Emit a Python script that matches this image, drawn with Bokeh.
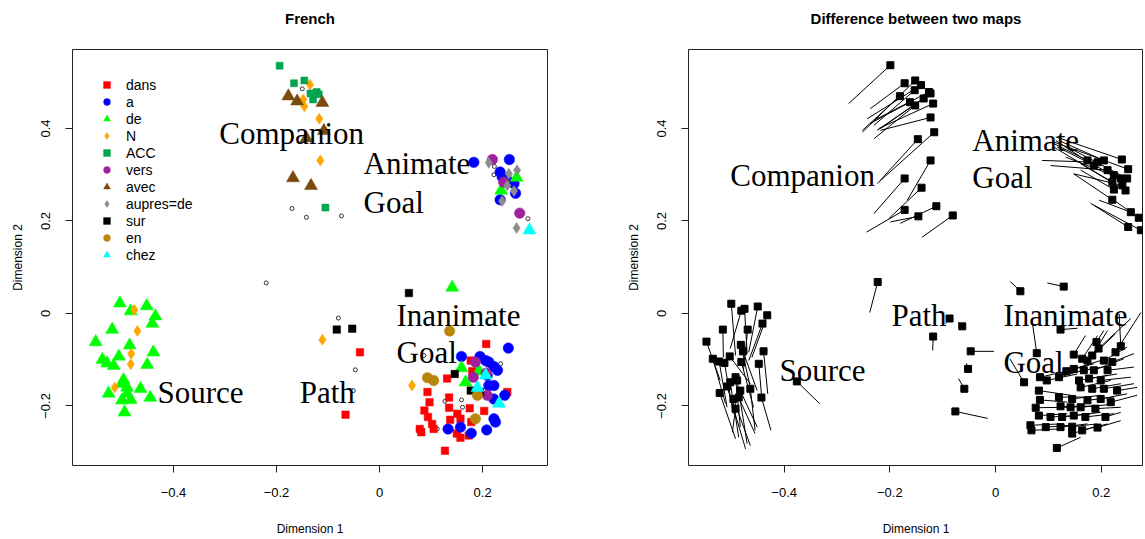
import numpy as np
from bokeh.plotting import figure
from bokeh.models import FixedTicker, Legend, LegendItem, Range1d
from bokeh.layouts import row
from bokeh.embed import file_html
from bokeh.resources import INLINE
from bokeh.core.properties import value

# ---------------- data: left panel "French" ----------------
dans_x = [-0.038, -0.066, 0.207, 0.177, 0.180, 0.131, 0.093, 0.097, 0.135, 0.087, 0.135, 0.175, 0.203, 0.094,
          0.151, 0.102, 0.137, 0.157, 0.178, 0.078, 0.081, 0.105, 0.150, 0.157, 0.173, 0.248, 0.127]
dans_y = [-0.084, -0.219, -0.066, -0.102, -0.125, -0.141, -0.170, -0.192, -0.182, -0.210, -0.204, -0.205, -0.211,
          -0.224, -0.217, -0.239, -0.230, -0.228, -0.235, -0.250, -0.257, -0.250, -0.260, -0.269, -0.264, -0.170, -0.297]

a_x = [0.183, 0.252, 0.234, 0.238, 0.248, 0.261, 0.264, 0.234,
       0.250, 0.159, 0.195, 0.206, 0.212, 0.222, 0.229, 0.209, 0.222, 0.212, 0.243, 0.222, 0.222, 0.225,
       0.133, 0.157, 0.178, 0.208]
a_y = [0.327, 0.333, 0.306, 0.295, 0.288, 0.281, 0.260, 0.246,
       -0.075, -0.093, -0.093, -0.102, -0.105, -0.115, -0.123, -0.134, -0.156, -0.156, -0.177, -0.185, -0.228, -0.235,
       -0.250, -0.246, -0.259, -0.252]

de_x = [0.266, 0.236, 0.141, 0.159, 0.193, 0.167,
        -0.504, -0.452, -0.483, -0.435, -0.441, -0.519, -0.551, -0.485, -0.439, -0.538, -0.529, -0.506,
        -0.516, -0.451, -0.497, -0.500, -0.490, -0.464, -0.526, -0.490, -0.500, -0.483, -0.445, -0.495]
de_y = [0.294, 0.266, 0.056, -0.118, -0.125, -0.149,
        0.022, 0.016, 0.005, -0.006, -0.022, -0.035, -0.062, -0.069, -0.084, -0.100, -0.108, -0.093,
        -0.113, -0.111, -0.144, -0.152, -0.160, -0.163, -0.173, -0.173, -0.188, -0.187, -0.182, -0.214]

N_x = [-0.135, -0.148, -0.146, -0.117, -0.115, -0.476, -0.470, -0.482, -0.483, -0.514, -0.111, 0.063]
N_y = [0.495, 0.463, 0.448, 0.421, 0.331, 0.008, -0.038, -0.087, -0.110, -0.160, -0.057, -0.156]

ACC_x = [-0.194, -0.166, -0.146, -0.134, -0.122, -0.118, -0.129, -0.105]
ACC_y = [0.536, 0.498, 0.504, 0.476, 0.479, 0.474, 0.463, 0.229]

vers_x = [0.219, 0.241, 0.272, 0.186, 0.182, 0.207, 0.209]
vers_y = [0.333, 0.284, 0.217, -0.105, -0.138, -0.129, -0.177]

avec_x = [-0.177, -0.160, -0.111, -0.108, -0.142, -0.168, -0.133]
avec_y = [0.470, 0.459, 0.456, 0.395, 0.379, 0.293, 0.276]

aupres_x = [0.212, 0.251, 0.267, 0.248, 0.261, 0.238, 0.266]
aupres_y = [0.326, 0.302, 0.310, 0.277, 0.265, 0.243, 0.185]

sur_x = [0.057, -0.083, -0.053, 0.146, 0.177, 0.195]
sur_y = [0.044, -0.035, -0.033, -0.131, -0.167, -0.170]

en_x = [0.136, 0.093, 0.105, 0.190, 0.186]
en_y = [-0.038, -0.139, -0.145, -0.177, -0.228]

chez_x = [0.291, 0.206, 0.190, 0.232]
chez_y = [0.180, -0.134, -0.161, -0.195]

other_x = [-0.150, -0.170, -0.142, -0.074, 0.223, 0.222, 0.288, -0.220, -0.080, 0.086, -0.047, 0.127,
           0.159, 0.161, 0.112, 0.235, -0.051]
other_y = [0.486, 0.227, 0.208, 0.211, 0.318, 0.300, 0.205, 0.066, -0.010, -0.091, -0.122, -0.190,
           -0.187, -0.203, -0.250, -0.109, -0.167]

left_labels = ["Companion", "Animate", "Goal", "Source", "Path", "Inanimate", "Goal"]
left_label_x = [-0.311, -0.031, -0.031, -0.431, -0.155, 0.033, 0.033]
left_label_y = [0.390, 0.325, 0.240, -0.171, -0.171, -0.004, -0.084]

# ---------------- data: right panel "Difference between two maps" ----------------
sq_x = [-0.199, -0.172, -0.152, -0.141, -0.153, -0.126, -0.123, -0.181, -0.136, -0.162, -0.152, -0.118, -0.123,
        -0.116, -0.147, -0.123, -0.140, -0.172, -0.172, -0.146, -0.112, -0.081,
        0.239, 0.251, 0.205, 0.193, 0.212, 0.224, 0.237, 0.249, 0.221, 0.240, 0.224, 0.246, 0.221, 0.256, 0.271,
        0.251, 0.275, 0.174, 0.186,
        -0.500, -0.481, -0.475, -0.450, -0.432, -0.516, -0.547, -0.441, -0.469, -0.482, -0.478, -0.439, -0.535,
        -0.523, -0.513, -0.503, -0.481, -0.448, -0.492, -0.502, -0.489, -0.508, -0.483, -0.464, -0.522, -0.496,
        -0.486, -0.443, -0.492, -0.376,
        -0.223, -0.118, -0.087, -0.063, -0.047, -0.052, -0.059, -0.076, 0.047, 0.129,
        0.054, 0.078, 0.123, 0.237, 0.191, 0.148, 0.164, 0.183, 0.205, 0.221, 0.084, 0.097, 0.120, 0.134, 0.148,
        0.167, 0.186, 0.212, 0.158, 0.177, 0.199, 0.161, 0.183, 0.205, 0.230, 0.082, 0.084, 0.120, 0.145, 0.174,
        0.199, 0.218, 0.076, 0.123, 0.142, 0.161, 0.189, 0.082, 0.104, 0.126, 0.148, 0.170, 0.208, 0.066, 0.068,
        0.095, 0.123, 0.145, 0.145, 0.164, 0.193, 0.116, 0.174, 0.227, 0.195]
sq_y = [0.537, 0.498, 0.504, 0.494, 0.483, 0.479, 0.476, 0.470, 0.465, 0.457, 0.450, 0.454, 0.424,
        0.392, 0.377, 0.331, 0.272, 0.292, 0.224, 0.210, 0.232, 0.212,
        0.333, 0.312, 0.331, 0.327, 0.310, 0.299, 0.292, 0.292, 0.284, 0.277, 0.268, 0.266, 0.246, 0.219, 0.207,
        0.187, 0.180, 0.331, 0.320,
        0.021, 0.006, 0.010, 0.015, -0.004, -0.035, -0.061, -0.022, -0.035, -0.068, -0.082, -0.082, -0.098,
        -0.104, -0.107, -0.093, -0.105, -0.109, -0.138, -0.149, -0.145, -0.158, -0.167, -0.163, -0.172, -0.185,
        -0.182, -0.182, -0.206, -0.147,
        0.068, -0.050, -0.011, -0.028, -0.082, -0.120, -0.163, -0.212, 0.048, 0.058,
        -0.149, -0.086, -0.035, -0.071, -0.062, -0.089, -0.098, -0.091, -0.102, -0.105, -0.138, -0.145, -0.138,
        -0.125, -0.120, -0.123, -0.123, -0.123, -0.145, -0.141, -0.145, -0.160, -0.163, -0.163, -0.167, -0.167,
        -0.187, -0.181, -0.185, -0.188, -0.185, -0.192, -0.204, -0.201, -0.203, -0.203, -0.206, -0.221, -0.224,
        -0.224, -0.221, -0.224, -0.224, -0.242, -0.253, -0.246, -0.246, -0.245, -0.260, -0.253, -0.247, -0.291,
        -0.102, -0.084, -0.076]
end_x = [-0.278, -0.237, -0.252, -0.243, -0.230, -0.230, -0.224, -0.252, -0.218, -0.237, -0.230, -0.221, -0.218,
         -0.224, -0.218, -0.167, -0.202, -0.230, -0.244, -0.199, -0.180, -0.139,
         0.114, 0.110, 0.120, 0.088, 0.104, 0.117, 0.133, 0.148, 0.110, 0.148, 0.161, 0.161, 0.148, 0.196, 0.224,
         0.186, 0.180, 0.104, 0.114,
         -0.492, -0.502, -0.470, -0.467, -0.461, -0.515, -0.521, -0.467, -0.477, -0.464, -0.451, -0.431, -0.511,
         -0.508, -0.496, -0.464, -0.458, -0.442, -0.483, -0.486, -0.470, -0.473, -0.451, -0.455, -0.492, -0.464,
         -0.455, -0.425, -0.498, -0.333,
         -0.238, -0.119, -0.095, -0.070, -0.003, -0.055, -0.070, -0.015, 0.028, 0.098,
         0.027, 0.070, 0.155, 0.234, 0.205, 0.170, 0.193, 0.212, 0.249, 0.262, 0.142, 0.155, 0.174, 0.186, 0.199,
         0.218, 0.243, 0.262, 0.212, 0.230, 0.256, 0.218, 0.237, 0.262, 0.268, 0.142, 0.136, 0.174, 0.199, 0.224,
         0.249, 0.268, 0.136, 0.174, 0.199, 0.218, 0.237, 0.136, 0.155, 0.180, 0.199, 0.224, 0.237, 0.123, 0.117,
         0.142, 0.174, 0.193, 0.186, 0.212, 0.237, 0.161, 0.227, 0.275, 0.256]
end_y = [0.454, 0.443, 0.392, 0.421, 0.407, 0.418, 0.396, 0.396, 0.400, 0.411, 0.378, 0.400, 0.396,
         0.281, 0.288, 0.245, 0.205, 0.216, 0.176, 0.198, 0.195, 0.165,
         0.382, 0.371, 0.374, 0.331, 0.320, 0.360, 0.338, 0.353, 0.360, 0.302, 0.310, 0.324, 0.302, 0.245, 0.245,
         0.234, 0.238, 0.371, 0.374,
         -0.091, -0.076, -0.087, -0.084, -0.095, -0.095, -0.145, -0.102, -0.123, -0.160, -0.167, -0.174, -0.195,
         -0.203, -0.217, -0.152, -0.203, -0.188, -0.246, -0.268, -0.282, -0.293, -0.246, -0.253, -0.271, -0.286,
         -0.260, -0.253, -0.257, -0.195,
         0.002, -0.080, -0.022, -0.019, -0.082, -0.108, -0.141, -0.227, 0.069, 0.066,
         -0.098, -0.022, -0.032, -0.001, -0.037, -0.048, -0.048, -0.037, -0.073, -0.087, -0.123, -0.131, -0.120,
         -0.109, -0.102, -0.113, -0.098, -0.116, -0.134, -0.131, -0.138, -0.145, -0.152, -0.152, -0.160, -0.177,
         -0.192, -0.181, -0.177, -0.181, -0.174, -0.177, -0.203, -0.201, -0.199, -0.197, -0.203, -0.217, -0.221,
         -0.217, -0.214, -0.217, -0.214, -0.239, -0.250, -0.242, -0.239, -0.239, -0.246, -0.239, -0.232, -0.268,
         -0.044, 0.002, -0.011]

right_labels = ["Companion", "Animate", "Goal", "Source", "Path", "Inanimate", "Goal"]
right_label_x = [-0.502, -0.044, -0.044, -0.409, -0.197, 0.015, 0.015]
right_label_y = [0.299, 0.374, 0.294, -0.123, -0.004, -0.004, -0.106]

x_ticks = [-0.4, -0.2, 0.0, 0.2]
y_ticks = [-0.2, 0.0, 0.2, 0.4]

SANS = "Liberation Sans"
SERIF = "Liberation Serif"


def style(p):
    p.title.text_font = SANS
    p.title.text_font_size = "15px"
    p.title.text_font_style = "bold"
    p.title.align = "center"
    p.title.vertical_align = "top"
    p.title.text_line_height = 1.22
    p.title.text_color = "black"
    p.title.standoff = 0
    p.xgrid.visible = False
    p.ygrid.visible = False
    p.outline_line_color = "#222222"
    p.outline_line_width = 1
    p.background_fill_color = "white"
    p.border_fill_color = "white"
    p.xaxis.ticker = FixedTicker(ticks=x_ticks)
    p.yaxis.ticker = FixedTicker(ticks=y_ticks)
    for ax in (p.xaxis, p.yaxis):
        ax.axis_line_color = None
        ax.minor_tick_line_color = None
        ax.major_tick_in = 0
        ax.major_tick_out = 7
        ax.major_tick_line_color = "#222222"
        ax.major_label_text_font = SANS
        ax.major_label_text_font_size = "13px"
        ax.major_label_text_color = "black"
        ax.axis_label_text_font = SANS
        ax.axis_label_text_font_size = "12px"
        ax.axis_label_text_font_style = "normal"
        ax.axis_label_text_color = "black"
        ax.major_label_standoff = 15
    p.xaxis.axis_label = "Dimension 1"
    p.yaxis.axis_label = "Dimension 2"
    p.xaxis.axis_label_standoff = 22
    p.yaxis.axis_label_standoff = 14
    p.yaxis.major_label_orientation = "vertical"


# the trailing blank line reserves space between the title and the frame
left = figure(title="French\n ", frame_width=475, frame_height=416,
              x_range=Range1d(-0.596, 0.326), y_range=Range1d(-0.329, 0.571),
              min_border_left=72, min_border_right=20, min_border_top=49, min_border_bottom=60,
              output_backend="svg", toolbar_location=None)
style(left)

groups = [
    ("dans", dans_x, dans_y, dict(marker="square", size=7.5, color="#FF0000")),
    ("a", a_x, a_y, dict(marker="circle", size=10.5, color="#0000FF")),
    ("de", de_x, de_y, dict(marker="triangle", size=13, color="#00FF00")),
    ("N", N_x, N_y, dict(marker="diamond", size=11, color="#FFA500")),
    ("ACC", ACC_x, ACC_y, dict(marker="square", size=7, color="#00A550")),
    ("vers", vers_x, vers_y, dict(marker="circle", size=10.5, color="#A020A0")),
    ("avec", avec_x, avec_y, dict(marker="triangle", size=13, color="#7B4A0C")),
    ("aupres=de", aupres_x, aupres_y, dict(marker="diamond", size=11, color="#8C8C8C")),
    ("sur", sur_x, sur_y, dict(marker="square", size=7.5, color="#000000")),
    ("en", en_x, en_y, dict(marker="circle", size=10.5, color="#B8860B")),
    ("chez", chez_x, chez_y, dict(marker="triangle", size=13, color="#00FFFF")),
]

left.scatter(x=other_x, y=other_y, marker="circle", size=4, fill_color=None,
             line_color="black", line_width=0.8)

items = []
for name, xs, ys, kw in groups:
    col = kw.pop("color")
    r = left.scatter(x=xs, y=ys, fill_color=col, line_color=col, line_width=0.5, **kw)
    items.append(LegendItem(label=name, renderers=[r]))

legend = Legend(items=items, location=(26, 202), border_line_color=None,
                background_fill_alpha=0, padding=0, margin=0, spacing=0,
                glyph_height=17, glyph_width=17, label_height=17, label_standoff=11,
                label_text_font=SANS, label_text_font_size="14px", label_text_color="black")
left.add_layout(legend)

left.text(x=left_label_x, y=left_label_y, text=left_labels, text_font=value(SERIF),
          text_font_size="31px", text_align="left", text_baseline="alphabetic", text_color="black")

# ---------------- right panel ----------------
right = figure(title="Difference between two maps\n ", frame_width=455, frame_height=416,
               x_range=Range1d(-0.581, 0.280), y_range=Range1d(-0.329, 0.571),
               min_border_left=121, min_border_right=0, min_border_top=49, min_border_bottom=60,
               output_backend="svg", toolbar_location=None)
style(right)

right.segment(x0=sq_x, y0=sq_y, x1=end_x, y1=end_y, line_color="black", line_width=1)
right.scatter(x=sq_x, y=sq_y, marker="square", size=7, fill_color="black", line_color="black")

right.text(x=right_label_x, y=right_label_y, text=right_labels, text_font=value(SERIF),
           text_font_size="31px", text_align="left", text_baseline="alphabetic", text_color="black")

layout = row(left, right)
open("out.html", "w").write(file_html(layout, INLINE))
